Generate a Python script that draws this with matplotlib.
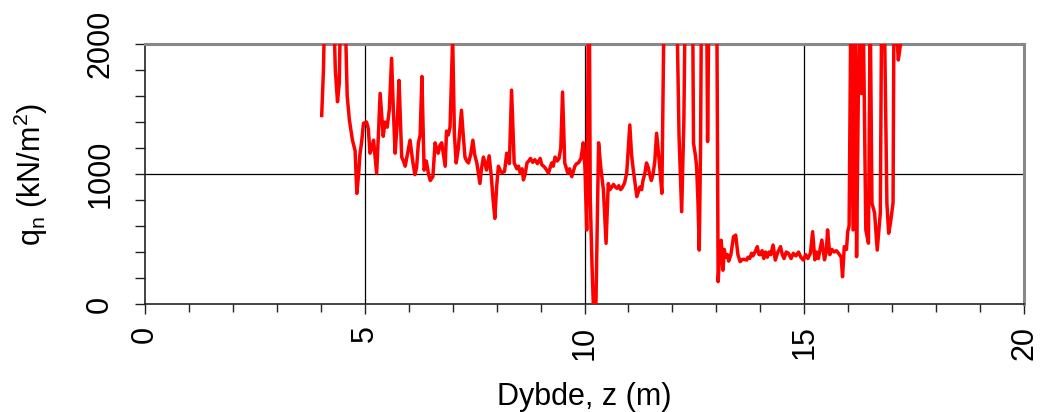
"""
CPT q_n mot dybde - gjenskaping av figur
"""

import matplotlib
matplotlib.use("Agg")
import matplotlib.pyplot as plt
from matplotlib.ticker import MultipleLocator

plt.rcParams['font.family'] = ['Liberation Sans', 'DejaVu Sans']
plt.rcParams['mathtext.fontset'] = 'custom'
plt.rcParams['mathtext.rm'] = 'Liberation Sans'

# dybde (m) og q_n (kN/m2)
depth = [4.02, 4.06, 4.09, 4.20, 4.29, 4.33, 4.38, 4.42, 4.45, 4.50, 4.55,
         4.60, 4.65, 4.72, 4.78, 4.82, 4.86, 4.89, 4.93, 4.97, 5.04, 5.08,
         5.12, 5.16, 5.20, 5.27, 5.31, 5.35, 5.42, 5.46, 5.51, 5.56, 5.61,
         5.65, 5.69, 5.74, 5.78, 5.84, 5.88, 5.92, 5.97, 6.03, 6.09, 6.14,
         6.18, 6.22, 6.26, 6.30, 6.35, 6.40, 6.45, 6.49, 6.55, 6.60, 6.63,
         6.67, 6.71, 6.75, 6.79, 6.83, 6.86, 6.90, 6.94, 7.00, 7.04, 7.08,
         7.13, 7.20, 7.24, 7.28, 7.32, 7.36, 7.41, 7.46, 7.50, 7.55, 7.62,
         7.66, 7.70, 7.74, 7.77, 7.83, 7.88, 7.92, 7.96, 8.00, 8.04, 8.08,
         8.12, 8.18, 8.23, 8.29, 8.34, 8.40, 8.46, 8.50, 8.54, 8.58, 8.61,
         8.65, 8.69, 8.73, 8.77, 8.82, 8.87, 8.93, 8.99, 9.03, 9.07, 9.12,
         9.18, 9.22, 9.25, 9.29, 9.33, 9.38, 9.42, 9.46, 9.50, 9.55, 9.62,
         9.66, 9.71, 9.78, 9.82, 9.86, 9.92, 9.97, 10.01, 10.05, 10.09,
         10.11, 10.13, 10.17, 10.20, 10.26, 10.32, 10.37, 10.43, 10.49,
         10.54, 10.58, 10.62, 10.66, 10.70, 10.74, 10.78, 10.82, 10.85,
         10.91, 10.96, 11.03, 11.07, 11.11, 11.19, 11.26, 11.30, 11.33,
         11.37, 11.41, 11.45, 11.48, 11.52, 11.56, 11.60, 11.64, 11.70,
         11.76, 11.81, 11.95, 12.10, 12.15, 12.21, 12.26, 12.29, 12.37,
         12.46, 12.48, 12.52, 12.55, 12.58, 12.61, 12.64, 12.66, 12.72,
         12.78, 12.80, 12.83, 12.92, 13.01, 13.04, 13.08, 13.11, 13.15,
         13.18, 13.21, 13.25, 13.28, 13.33, 13.39, 13.44, 13.49, 13.54,
         13.58, 13.62, 13.69, 13.72, 13.76, 13.80, 13.83, 13.88, 13.93,
         13.97, 14.00, 14.04, 14.08, 14.12, 14.16, 14.20, 14.24, 14.29,
         14.34, 14.40, 14.46, 14.50, 14.54, 14.59, 14.64, 14.70, 14.75,
         14.81, 14.87, 14.92, 14.98, 15.03, 15.08, 15.14, 15.19, 15.24,
         15.28, 15.32, 15.36, 15.40, 15.46, 15.50, 15.53, 15.58, 15.63,
         15.68, 15.73, 15.78, 15.84, 15.87, 15.91, 15.96, 15.99, 16.02,
         16.06, 16.11, 16.16, 16.19, 16.23, 16.27, 16.30, 16.34, 16.40,
         16.46, 16.50, 16.54, 16.60, 16.66, 16.73, 16.76, 16.82, 16.88,
         16.92, 16.96, 17.02, 17.04, 17.10, 17.14, 17.19]
qn = [1450, 1800, 2300, 2400, 2300, 1800, 1556, 1700, 2300, 2400, 2300,
      1600, 1415, 1260, 1180, 851, 1000, 1150, 1250, 1390, 1400, 1350,
      1160, 1200, 1260, 1006, 1300, 1620, 1290, 1400, 1360, 1500, 1890,
      1500, 1160, 1400, 1720, 1130, 1100, 1060, 1150, 1260, 1100, 995,
      1050, 1240, 1300, 1750, 1030, 1100, 1000, 950, 980, 1240, 1200,
      1160, 1220, 1240, 1150, 1060, 1330, 1300, 1360, 2050, 1300, 1085,
      1200, 1490, 1300, 1130, 1100, 1085, 1150, 1260, 1150, 1085, 927,
      1050, 1130, 1080, 1030, 1140, 980, 800, 659, 900, 1060, 1030,
      1010, 1020, 1160, 1080, 1645, 1085, 1040, 1060, 1006, 1040, 955,
      1000, 1085, 1100, 1120, 1090, 1110, 1080, 1120, 1070, 1060, 1040,
      1006, 1050, 1085, 1060, 1130, 1100, 1120, 1200, 1630, 1085, 1006,
      1040, 980, 1060, 1080, 1085, 1120, 1240, 1050, 570, 2300,
      2300, 820, 300, 0, 0, 1240, 1050, 877, 467,
      927, 880, 900, 920, 900, 890, 910, 880, 890,
      930, 1006, 1377, 1150, 1030, 826, 900, 880, 950,
      1000, 1085, 1050, 1000, 950, 1000, 1100, 1313, 1100,
      852, 2300, 2400, 2300, 1300, 710, 1400, 2300, 2400,
      2300, 1236, 1150, 1060, 800, 415, 1200, 2300, 2400,
      2300, 1250, 2300, 2400, 2300, 172, 400, 490, 260,
      420, 360, 380, 330, 380, 518, 530, 380, 326,
      340, 345, 338, 360, 350, 390, 370, 400, 441,
      380, 380, 410, 350, 400, 360, 400, 380, 454,
      338, 400, 441, 380, 350, 400, 390, 350, 390,
      370, 400, 360, 338, 380, 350, 390, 556, 340,
      400, 350, 420, 492, 340, 400, 570, 380, 420,
      400, 410, 390, 360, 210, 441, 420, 560, 600,
      2300, 570, 2300, 364, 1620, 2300, 1620, 2300, 570,
      468, 2300, 775, 700, 415, 700, 2300, 2300, 775,
      544, 620, 780, 2200, 2100, 1877, 2000]

x_ticks = [0, 5, 10, 15, 20]
y_ticks = [0, 1000, 2000]

fig = plt.figure(figsize=(10.41, 4.12), dpi=100)
ax = fig.add_axes([0.1393, 0.2621, 0.8444, 0.6311])

for v in [5, 10, 15]:
    ax.axvline(v, color='black', lw=0.9, zorder=1)
ax.axhline(1000, color='black', lw=0.9, zorder=1)

ax.plot(depth, qn, color='#ff0000', lw=2.5, zorder=3)

ax.set_xlim(0, 20)
ax.set_ylim(0, 2000)
ax.set_xticks(x_ticks)
ax.set_yticks(y_ticks)
ax.xaxis.set_minor_locator(MultipleLocator(1))
ax.yaxis.set_minor_locator(MultipleLocator(200))
ax.tick_params(axis='both', which='both', direction='out', labelsize=22,
               width=1.0, color='#222222')
ax.tick_params(axis='x', which='major', length=7.5, pad=8)
ax.tick_params(axis='x', which='minor', length=5.5)
ax.tick_params(axis='y', which='both', length=7.5, pad=14)
for lab in ax.get_xticklabels():
    lab.set_rotation(90)
for lab in ax.get_yticklabels():
    lab.set_rotation(90)
    lab.set_va('center')

for side in ['top', 'right']:
    ax.spines[side].set_color('#888888')
    ax.spines[side].set_linewidth(2.2)
for side in ['left', 'bottom']:
    ax.spines[side].set_color('#222222')
    ax.spines[side].set_linewidth(1.2)

ax.set_xlabel('Dybde, z (m)', fontsize=22, labelpad=16)
ax.set_ylabel(r'q$_\mathregular{n}$ (kN/m$^\mathregular{2}$)', fontsize=22,
              labelpad=25)

plt.savefig('out.png', dpi=100)
plt.close()
